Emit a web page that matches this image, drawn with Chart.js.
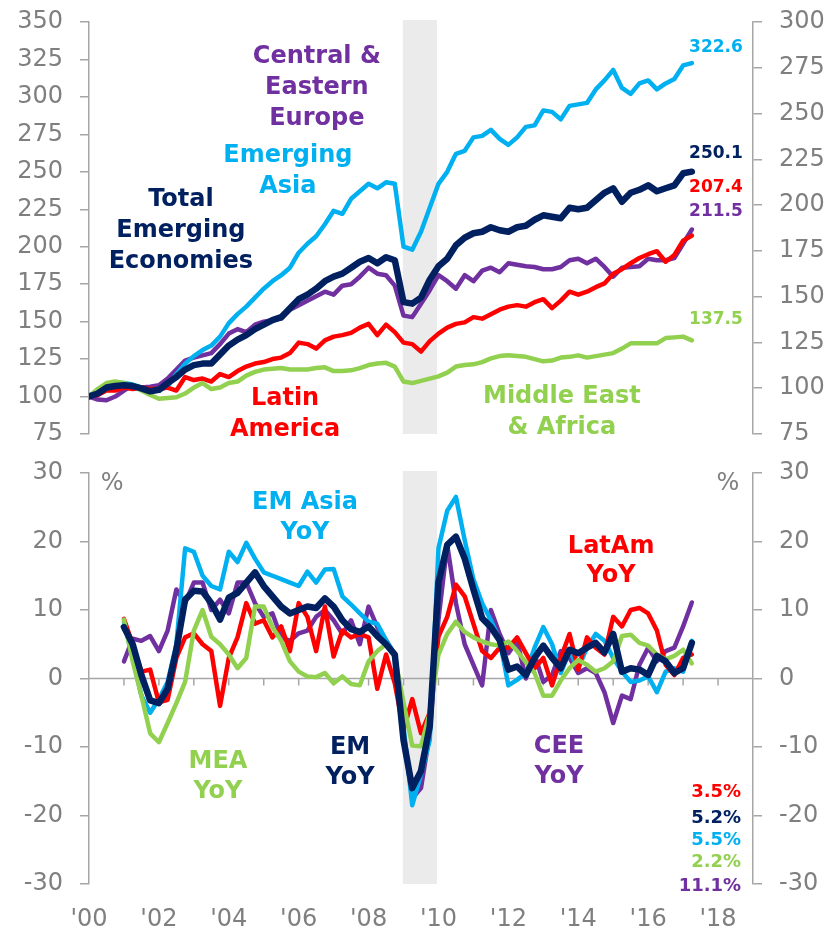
<!DOCTYPE html>
<html>
<head>
<meta charset="utf-8">
<script src="https://cdn.jsdelivr.net/npm/chart.js@4.4.0/dist/chart.umd.min.js"></script>
<style>
  body { margin: 0; background: #fff; }
  #wrap { position: relative; width: 829px; height: 930px; }
  canvas { position: absolute; left: 0; }
  #topChart { top: 0; }
  #bottomChart { top: 452px; }
</style>
</head>
<body>
<div id="wrap">
  <canvas id="topChart" width="829" height="452"></canvas>
  <canvas id="bottomChart" width="829" height="478"></canvas>
</div>
<script>
// --- Data (quarterly readings) ---
let levelDates = [];
for (let q = 0; q < 70; q++) levelDates.push(2000 + q / 4);   // 2000Q1 .. 2017Q2
let yoyDates = levelDates.slice(4);                            // 2001Q1 .. 2017Q2

// index levels, 2000 = 100
let asiaIdx = [100, 102, 106, 109, 109, 108, 106, 104, 104, 107, 115, 122,
  127, 131, 134, 140, 149, 155, 160, 166, 172, 177, 181, 186,
  196, 202, 207, 215, 224, 222, 232, 237, 242, 239, 243, 242,
  200, 198, 210, 226, 242, 250, 262, 264, 273, 274, 278, 272,
  268, 273, 280, 281, 291, 290, 285, 294, 295, 296, 305, 311,
  318, 306, 302, 309, 311, 305, 309, 312, 321, 322.6];
let emIdx = [100, 102, 106, 107, 107.5, 107, 105.5, 103.5, 104.5, 109, 113, 118,
  121, 122, 122, 128, 134, 138, 141, 145, 148, 151, 153, 159,
  165, 168, 172, 177, 180, 182, 186, 190, 192.5, 189, 193, 191,
  163, 162, 166, 178, 187, 192, 201, 206, 209, 210, 213, 211,
  210, 213, 214, 218, 221, 220, 219, 226, 225, 226, 231, 236,
  239, 230, 236, 238, 241, 237, 239, 241, 249, 250.1];
let ceeIdx = [100, 98, 97.5, 100, 104, 107.5, 106, 106.5, 107.5, 112, 118, 124,
  126, 127.5, 129, 135, 142, 145, 143, 148, 150, 151, 152, 158,
  161, 164, 167, 170, 168, 174, 175, 180, 186, 182, 181, 174,
  154, 153, 162, 171, 181, 177, 172, 181, 177, 184, 186, 183,
  189, 188, 187, 186.5, 185, 185, 186.5, 191, 192, 189, 192, 186.5,
  180, 186, 186.5, 187, 192, 191, 191, 192.5, 202, 211.5];
let latamIdx = [100, 101, 104, 104, 106, 105, 106, 105, 105, 106, 104, 113,
  111, 112, 110, 115, 113, 117, 120, 122, 123, 125, 126, 129,
  136, 135, 132, 137.5, 140, 141, 142.5, 146, 148.5, 141, 148, 143,
  136, 135, 130, 137, 142, 146, 148.5, 149.5, 153, 152, 155, 158,
  160, 161, 160, 163, 165, 159, 164, 170, 168, 170, 173, 175.5,
  182, 185, 189, 192.5, 195, 197, 190, 194.5, 204, 207.4];
let meaIdx = [100, 105, 109, 110, 109, 107, 104, 101, 98.5, 99, 99.5, 102,
  106, 109, 105, 106, 109, 110, 114, 116.5, 118, 118.5, 119, 118,
  118, 118, 119, 119.5, 117, 117, 117.5, 119, 121, 122, 122.5, 120,
  110, 109, 110.5, 112, 113.5, 116, 120, 121, 121.5, 123, 125.5, 127,
  127.5, 127, 126.5, 125, 123.5, 124, 126, 126.5, 127.5, 126, 127, 128,
  129, 132, 135.5, 135.5, 135.5, 135.5, 139, 139.5, 140, 137.5];

// year-on-year, %
let asiaYoY = [8.3, 3, -2.5, -5, -3, -0.5, 5, 19, 18.5, 15, 13.5, 13,
  18.5, 17, 19.8, 17.5, 15.5, 15, 14.5, 14, 13.5, 15.6, 14, 15.9,
  16, 12, 10.8, 9.5, 8.3, 8, 5.6, 3.5, -7, -18.5, -14, -9,
  19, 24.5, 26.5, 20.2, 14.5, 11, 8.5, 5.6, -1, -0.2, 0.8, 4.5,
  7.5, 5, 0.8, 4, 1.5, 4.5, 6.5, 5.5, 3, 1, -0.5, -0.3,
  0.3, -2, 1, 1.5, 1, 5.5];
let emYoY = [7.5, 5, 0.5, -3.2, -3.6, -1.5, 4.2, 11.5, 12.8, 12.7, 11, 8.6,
  11.8, 12.5, 14, 15.5, 13.5, 12, 10.5, 9.5, 10, 10.5, 10.3, 11.7,
  10.5, 8.5, 7.2, 6.8, 7.6, 6.2, 5, 3.5, -9, -16, -13.5, -7,
  14, 19.5, 20.7, 17.5, 13, 8.8, 7.5, 5.6, 1.3, 1.75, 0.5, 3,
  4.8, 3, 1.5, 4.2, 3.7, 4.5, 5.2, 3.8, 6.5, 1, 1.5, 1.3,
  0.5, 3.3, 2.5, 0.8, 1.5, 5.2];
let ceeYoY = [2.5, 5.8, 5.5, 6.2, 4, 7, 13, 11, 14, 14, 10, 11.5,
  9.5, 14, 14, 11, 9, 9.5, 6, 5.5, 6.6, 7, 9, 10,
  8.5, 6.5, 8.5, 5, 10.5, 7.5, 5.6, 3.5, -8, -17.5, -16, -8,
  8.6, 19.5, 11, 5, 2, -1, 10, 6.5, 3.7, 5.5, 0, 3.5,
  -0.5, 0.5, 4, 3, 0.8, 1.5, 0.8, -2, -6.5, -2.5, -3, 2,
  4.5, 2.5, 4, 4.5, 7.6, 11.1];
let latamYoY = [8.7, 5, 1, 1.3, -3.5, -3.1, 3, 6, 6.6, 5, 4, -4,
  3, 6, 11, 8, 8.5, 6, 7.6, 4, 11, 9, 4, 10.5,
  3.2, 7, 6, 6.5, 6, -1.5, 3.5, -0.7, -7.5, -3, -8, -5,
  6.1, 9, 13.7, 12, 8, 4, 3, 4.5, 4.5, 6, 3.7, 1.5,
  3, -1, 3, 6.5, 1.3, 6, 4.5, 3.5, 9, 7.6, 10, 10.3,
  9.5, 7, 2, 0.5, 3, 3.5];
let meaYoY = [8.6, 2.5, -2.5, -8, -9.3, -6.5, -3.6, -0.5, 7, 10, 6.1, 5,
  3.5, 1.5, 3, 10.5, 10.5, 7.5, 5.5, 2.5, 1, 0.3, 0.2, 0.8,
  -0.7, 0.3, -0.8, -1, 2.5, 4, 5, 3.2, -3.5, -9.8, -9.9, -5,
  3.5, 6.5, 8.3, 6.8, 6, 5.4, 5, 4.8, 5.4, 4, 2.4, 0.8,
  -2.5, -2.5, -0.3, 1.5, 2.7, 2, 1, 1.5, 2.5, 6.2, 6.4, 5.2,
  4.8, 3.5, 2.8, 3.3, 4.2, 2.2];

let recession = [2008.98, 2009.96];

// --- Styling ---
const NAVY = '#002060', CYAN = '#00B0F0', PURPLE = '#7030A0', RED = '#FF0000', GREEN = '#92D050';
const AXIS = '#A6A6A6', TICK = '#7F7F7F';
const FONT = "'DejaVu Sans', Verdana, sans-serif";
Chart.defaults.font.family = FONT;

function line(dates, values, color, width) {
    return {
        data: values.map((v, i) => ({x: dates[i], y: v})),
        borderColor: color,
        borderWidth: width,
        pointRadius: 0,
        tension: 0,
        fill: false,
        borderJoinStyle: 'round',
        borderCapStyle: 'round'
    };
}

function yAxis(pos, min, max, step, width) {
    return {
        position: pos, min: min, max: max,
        ticks: {stepSize: step, color: TICK, padding: 17, font: {size: 24}, autoSkip: false},
        grid: {drawOnChartArea: false, color: AXIS, lineWidth: 1.5, tickLength: 9},
        border: {color: AXIS, width: 1.5},
        afterFit: s => {
            s.width = width;
            // keep the plot height set by layout padding alone
            s.paddingTop = 0;
            s.paddingBottom = 0;
        }
    };
}

// --- Plugins ---
const bandPlugin = {
    id: 'band',
    beforeDatasetsDraw(chart) {
        const {ctx, chartArea, scales} = chart;
        const x0 = scales.x.getPixelForValue(recession[0]);
        const x1 = scales.x.getPixelForValue(recession[1]);
        ctx.save();
        ctx.fillStyle = '#EBEBEB';
        ctx.fillRect(x0, chartArea.top - 2, x1 - x0, chartArea.bottom - chartArea.top + 2);
        ctx.restore();
    }
};

const zeroPlugin = {
    id: 'zero',
    beforeDatasetsDraw(chart) {
        const {ctx, chartArea, scales} = chart;
        const y0 = scales.y.getPixelForValue(0);
        ctx.save();
        ctx.strokeStyle = AXIS;
        ctx.lineWidth = 1.5;
        ctx.beginPath();
        ctx.moveTo(chartArea.left, y0);
        ctx.lineTo(chartArea.right, y0);
        for (let yr = 2001; yr <= 2018; yr++) {
            const x = scales.x.getPixelForValue(yr);
            ctx.moveTo(x, y0);
            ctx.lineTo(x, y0 + 7);
        }
        ctx.stroke();
        ctx.restore();
    }
};

const notesPlugin = {
    id: 'notes',
    afterDraw(chart, args, opts) {
        const {ctx, scales} = chart;
        ctx.save();
        ctx.textBaseline = 'middle';
        opts.items.forEach(n => {
            ctx.font = (n.weight || 'bold') + ' ' + n.size + 'px ' + FONT;
            ctx.fillStyle = n.color;
            ctx.textAlign = n.align || 'center';
            const x = scales.x.getPixelForValue(n.at[0]);
            const y = scales.y.getPixelForValue(n.at[1]);
            n.text.forEach((t, i) => ctx.fillText(t, x, y + i * (n.gap || 31)));
        });
        ctx.restore();
    }
};

// --- Top panel: index levels ---
let topNotes = [
    {text: ['Central &', 'Eastern', 'Europe'], at: [2006.52, 326.6], color: PURPLE, size: 24},
    {text: ['Emerging', 'Asia'], at: [2005.69, 260.6], color: CYAN, size: 24},
    {text: ['Total', 'Emerging', 'Economies'], at: [2002.63, 231.2], color: NAVY, size: 24},
    {text: ['Latin', 'America'], at: [2005.61, 98.4], color: RED, size: 24},
    {text: ['Middle East', '& Africa'], at: [2013.53, 99.7], color: GREEN, size: 24},
    {text: ['322.6'], at: [2018.71, 332.6], color: CYAN, size: 17, align: 'right'},
    {text: ['250.1'], at: [2018.71, 262.2], color: NAVY, size: 17, align: 'right'},
    {text: ['207.4'], at: [2018.71, 239.2], color: RED, size: 17, align: 'right'},
    {text: ['211.5'], at: [2018.71, 223.2], color: PURPLE, size: 17, align: 'right'},
    {text: ['137.5'], at: [2018.71, 151.1], color: GREEN, size: 17, align: 'right'}
];

new Chart(document.getElementById('topChart'), {
    type: 'line',
    data: {
        datasets: [
            line(levelDates, emIdx, NAVY, 6.5),
            line(levelDates, meaIdx, GREEN, 4.5),
            line(levelDates, latamIdx, RED, 4.5),
            line(levelDates, asiaIdx, CYAN, 4.5),
            line(levelDates, ceeIdx, PURPLE, 4.5)
        ]
    },
    options: {
        responsive: false,
        animation: false,
        events: [],
        layout: {padding: {top: 22, bottom: 18, left: 0, right: 0}},
        scales: {
            x: {type: 'linear', min: 2000, max: 2019, display: false},
            y: yAxis('left', 75, 350, 25, 89),
            y2: yAxis('right', 75, 300, 25, 76)
        },
        plugins: {legend: {display: false}, tooltip: {enabled: false}, notes: {items: topNotes}}
    },
    plugins: [bandPlugin, notesPlugin]
});

// --- Bottom panel: year-on-year growth ---
let bottomNotes = [
    {text: ['%'], at: [2000.66, 28.5], color: TICK, size: 24, weight: 'normal'},
    {text: ['%'], at: [2018.28, 28.5], color: TICK, size: 24, weight: 'normal'},
    {text: ['EM Asia', 'YoY'], at: [2006.18, 25.6], color: CYAN, size: 24, gap: 30},
    {text: ['MEA', 'YoY'], at: [2003.69, -12.2], color: GREEN, size: 24, gap: 30},
    {text: ['EM', 'YoY'], at: [2007.47, -10.1], color: NAVY, size: 24, gap: 30},
    {text: ['LatAm', 'YoY'], at: [2014.94, 19.2], color: RED, size: 24, gap: 29},
    {text: ['CEE', 'YoY'], at: [2013.45, -10], color: PURPLE, size: 24, gap: 30},
    {text: ['3.5%'], at: [2018.66, -16.6], color: RED, size: 18, align: 'right'},
    {text: ['5.2%'], at: [2018.66, -20.4], color: NAVY, size: 18, align: 'right'},
    {text: ['5.5%'], at: [2018.66, -23.6], color: CYAN, size: 18, align: 'right'},
    {text: ['2.2%'], at: [2018.66, -26.9], color: GREEN, size: 18, align: 'right'},
    {text: ['11.1%'], at: [2018.66, -30.4], color: PURPLE, size: 18, align: 'right'}
];

new Chart(document.getElementById('bottomChart'), {
    type: 'line',
    data: {
        datasets: [
            line(yoyDates, emYoY, NAVY, 6.5),
            line(yoyDates, meaYoY, GREEN, 4.5),
            line(yoyDates, latamYoY, RED, 4.5),
            line(yoyDates, asiaYoY, CYAN, 4.5),
            line(yoyDates, ceeYoY, PURPLE, 4.5)
        ]
    },
    options: {
        responsive: false,
        animation: false,
        events: [],
        layout: {padding: {top: 21, bottom: 0, left: 0, right: 0}},
        scales: {
            x: {
                type: 'linear', min: 2000, max: 2019, position: 'bottom',
                ticks: {
                    stepSize: 2, includeBounds: false, autoSkip: false, maxRotation: 0,
                    color: TICK, padding: 21, font: {size: 24},
                    callback: v => "'" + String(Math.round(v) % 100).padStart(2, '0')
                },
                grid: {display: false, drawTicks: false},
                border: {display: false},
                afterFit: s => { s.height = 46; }
            },
            y: yAxis('left', -30, 30, 10, 89),
            y2: yAxis('right', -30, 30, 10, 76)
        },
        plugins: {legend: {display: false}, tooltip: {enabled: false}, notes: {items: bottomNotes}}
    },
    plugins: [bandPlugin, zeroPlugin, notesPlugin]
});
</script>
</body>
</html>
